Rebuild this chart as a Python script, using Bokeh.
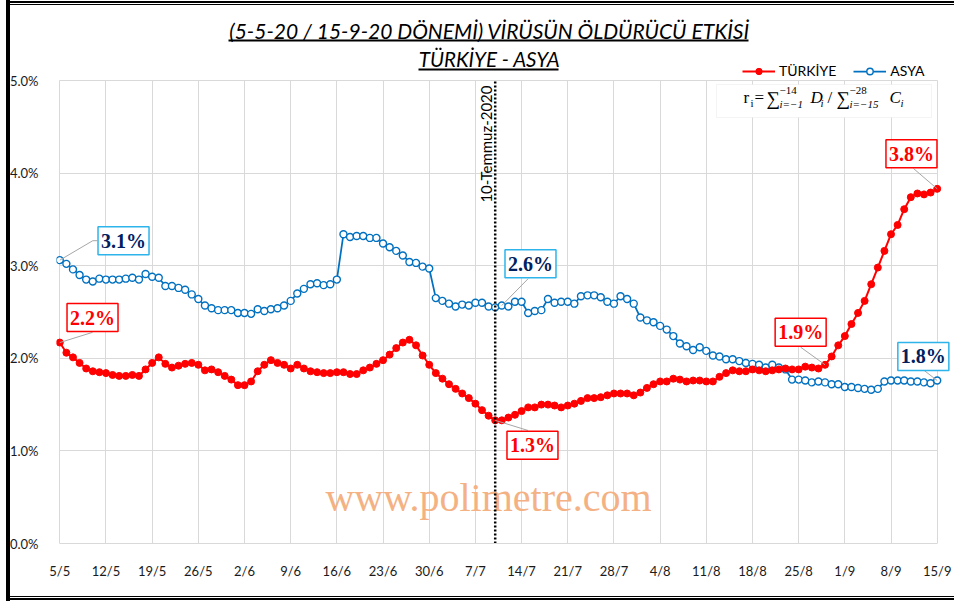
import math
from bokeh.plotting import figure
from bokeh.models import (ColumnDataSource, Range1d, FixedTicker, PrintfTickFormatter,
                          Label, BoxAnnotation, Legend, LegendItem)
from bokeh.embed import file_html
from bokeh.resources import INLINE

# ---------------- data ----------------
tick_labels = ["5/5", "12/5", "19/5", "26/5", "2/6", "9/6", "16/6", "23/6", "30/6", "7/7",
               "14/7", "21/7", "28/7", "4/8", "11/8", "18/8", "25/8", "1/9", "8/9", "15/9"]
y_ticks = [0, 1, 2, 3, 4, 5]

turkiye = [
    2.17, 2.06, 2.01, 1.95, 1.89, 1.86, 1.85, 1.84, 1.82, 1.81, 1.81, 1.82, 1.81, 1.88, 1.95, 2.01, 1.94, 1.90, 1.92, 1.94, 1.95, 1.93,
    1.87, 1.88, 1.85, 1.81, 1.77, 1.71, 1.71, 1.75, 1.86, 1.93, 1.98, 1.95, 1.93, 1.89, 1.93, 1.89, 1.86, 1.85, 1.84, 1.84, 1.85, 1.85,
    1.83, 1.83, 1.87, 1.90, 1.94, 1.98, 2.04, 2.11, 2.17, 2.20, 2.14, 2.03, 1.93, 1.84, 1.78, 1.72, 1.67, 1.62, 1.57, 1.51, 1.44, 1.38,
    1.33, 1.33, 1.36, 1.39, 1.43, 1.47, 1.47, 1.50, 1.50, 1.49, 1.47, 1.49, 1.51, 1.54, 1.57, 1.57, 1.58, 1.60, 1.62, 1.62, 1.62, 1.60,
    1.63, 1.68, 1.72, 1.75, 1.75, 1.78, 1.77, 1.75, 1.76, 1.76, 1.75, 1.75, 1.80, 1.84, 1.87, 1.86, 1.86, 1.88, 1.87, 1.86, 1.87, 1.88,
    1.89, 1.88, 1.88, 1.91, 1.90, 1.89, 1.93, 2.02, 2.14, 2.24, 2.37, 2.49, 2.62, 2.80, 2.98, 3.16, 3.34, 3.44, 3.61, 3.74, 3.78, 3.77, 3.79, 3.83,
]

asya = [
    3.06, 3.02, 2.96, 2.90, 2.85, 2.83, 2.86, 2.85, 2.85, 2.85, 2.86, 2.87, 2.85, 2.91, 2.88, 2.87, 2.78, 2.78, 2.76, 2.74, 2.69, 2.64,
    2.57, 2.54, 2.52, 2.52, 2.52, 2.49, 2.49, 2.48, 2.53, 2.51, 2.53, 2.54, 2.57, 2.62, 2.70, 2.75, 2.80, 2.81, 2.79, 2.80, 2.85, 3.34,
    3.31, 3.32, 3.32, 3.30, 3.30, 3.24, 3.20, 3.16, 3.11, 3.04, 3.03, 2.99, 2.97, 2.65, 2.62, 2.59, 2.56, 2.58, 2.57, 2.60, 2.60, 2.56,
    2.55, 2.57, 2.56, 2.61, 2.61, 2.49, 2.51, 2.52, 2.64, 2.60, 2.61, 2.61, 2.59, 2.67, 2.68, 2.68, 2.66, 2.61, 2.59, 2.67, 2.64, 2.59,
    2.44, 2.41, 2.39, 2.35, 2.31, 2.24, 2.16, 2.13, 2.09, 2.12, 2.08, 2.03, 2.02, 1.99, 1.99, 1.97, 1.95, 1.94, 1.93, 1.90, 1.93, 1.90, 1.88,
    1.77, 1.77, 1.76, 1.74, 1.75, 1.74, 1.72, 1.72, 1.69, 1.69, 1.68, 1.67, 1.66, 1.67, 1.75, 1.76, 1.76, 1.76, 1.75, 1.75, 1.74, 1.73, 1.76,
]

days = list(range(len(turkiye)))
marker_day = 66          # 10 Temmuz 2020
marker_text = "10-Temmuz-2020"
title1 = "(5-5-20 / 15-9-20 DÖNEMİ) VİRÜSÜN ÖLDÜRÜCÜ ETKİSİ"
title2 = "TÜRKİYE - ASYA"
watermark = "www.polimetre.com"

RED = "#FF0000"
BLUE = "#0070C0"
NAVY = "#002060"
LBLUE = "#2DB4EA"
GRID = "#D9D9D9"

# ---------------- figure ----------------
# frame: left edge 56px, bottom edge 543px (page coords); 92.6 px per 1 %, 6.597 px per day
LEFT = 56
FRAME_H = 543
FRAME_W = 898
BOTTOM = 58
p = figure(width=LEFT + FRAME_W, height=FRAME_H + BOTTOM,
           x_range=Range1d(-0.5, -0.5 + FRAME_W / 6.597),
           y_range=Range1d(0, FRAME_H / 92.6),
           output_backend="svg", toolbar_location=None,
           min_border_left=LEFT, min_border_right=0, min_border_top=0, min_border_bottom=BOTTOM)
p.outline_line_color = None
p.background_fill_alpha = 0
p.border_fill_alpha = 0
# frame-like rules of the original screenshot (left bar, double rules top and bottom)
p.styles = {"box-shadow": ", ".join([
    "inset 6px 0 0 0 white", "inset 10px 0 0 0 black",
    "inset 0 1px 0 0 white", "inset 0 3px 0 0 black", "inset 0 4px 0 0 white", "inset 0 5px 0 0 black",
    "inset 0 -1px 0 0 white", "inset 0 -3px 0 0 black", "inset 0 -4px 0 0 white", "inset 0 -5px 0 0 black",
])}


def sx(px):   # page x -> screen units relative to frame
    return px - LEFT


def sy(py):   # page y -> screen units relative to frame bottom
    return FRAME_H - py


ticks_x = list(range(0, len(days), 7))
p.xaxis.ticker = FixedTicker(ticks=ticks_x)
p.xaxis.major_label_overrides = {t: lab for t, lab in zip(ticks_x, tick_labels)}
p.yaxis.ticker = FixedTicker(ticks=y_ticks)
p.yaxis.formatter = PrintfTickFormatter(format="%.1f%%")
p.xaxis.bounds = (days[0], days[-1])
for ax in (p.xaxis[0], p.yaxis[0]):
    ax.major_tick_line_color = None
    ax.minor_tick_line_color = None
    ax.major_label_text_font = "Lato"
    ax.major_label_text_font_size = "13px"
    ax.major_label_text_color = "#1a1a1a"
p.xaxis.axis_line_color = GRID
p.yaxis.axis_line_color = None
p.xaxis.major_label_standoff = 13
p.yaxis.major_label_standoff = 12

gx, gy = p.xgrid[0], p.ygrid[0]
gx.ticker = FixedTicker(ticks=ticks_x)
gy.ticker = FixedTicker(ticks=y_ticks)
if "cross_bounds" in type(gx).properties():
    gx.cross_bounds = (y_ticks[0], y_ticks[-1])
    gy.cross_bounds = (days[0], days[-1])
    p.grid.grid_line_color = GRID
    p.grid.grid_line_width = 1
else:
    p.grid.visible = False
    p.segment(x0=ticks_x, y0=[y_ticks[0]] * len(ticks_x), x1=ticks_x, y1=[y_ticks[-1]] * len(ticks_x),
              line_color=GRID, line_width=1)
    p.segment(x0=[days[0]] * len(y_ticks), y0=y_ticks, x1=[days[-1]] * len(y_ticks), y1=y_ticks,
              line_color=GRID, line_width=1)

# watermark
p.add_layout(Label(x=sx(488), y=sy(497), x_units="screen", y_units="screen", text=watermark,
                   text_font="Liberation Serif", text_font_size="40px", text_color="#F4B183",
                   text_align="center", text_baseline="middle", level="underlay"))

src = ColumnDataSource(dict(day=days, tr=turkiye, asya=asya))
l2 = p.line("day", "asya", source=src, line_color=BLUE, line_width=1.75)
s2 = p.scatter("day", "asya", source=src, size=7, fill_color="white", line_color=BLUE, line_width=1.4)
l1 = p.line("day", "tr", source=src, line_color=RED, line_width=2)
s1 = p.scatter("day", "tr", source=src, size=7, fill_color=RED, line_color=RED)

# vertical marker line (10 Temmuz)
p.segment(x0=[marker_day], y0=[y_ticks[0]], x1=[marker_day], y1=[y_ticks[-1]],
          line_color="black", line_dash="2 2", line_width=2.5)
p.add_layout(Label(x=marker_day, y=sy(85), y_units="screen", x_offset=-9, text=marker_text,
                   angle=math.pi / 2, text_align="right", text_baseline="middle",
                   text_font="Lato", text_font_size="15px", text_color="black"))

# data labels: (series, index, label centre day, label centre value, leader points)
callouts = [
    (asya, 0, 9.66, 3.27, [(5.0, 3.27), (5.7, 3.27)], NAVY, LBLUE),
    (turkiye, 0, 4.96, 2.44, [(4.96, 2.28)], RED, RED),
    (asya, 67, 71.35, 3.02, [(71.0, 2.86)], NAVY, LBLUE),
    (turkiye, 66, 71.65, 1.06, [(71.0, 1.22)], RED, RED),
    (turkiye, 116, 112.3, 2.28, [(112.3, 2.12)], RED, RED),
    (turkiye, 133, 129.1, 4.21, [(129.4, 4.05)], RED, RED),
    (asya, 133, 130.9, 2.02, [(131.0, 1.87)], NAVY, LBLUE),
]
xs, ys = [], []
for series, idx, lx, ly, pts, tc, bc in callouts:
    xs.append([days[idx]] + [q[0] for q in pts])
    ys.append([series[idx]] + [q[1] for q in pts])
p.multi_line(xs, ys, line_color="#A6A6A6", line_width=1)
for series, idx, lx, ly, pts, tc, bc in callouts:
    p.add_layout(Label(x=lx, y=ly, text=f"{series[idx]:.1f}%", text_align="center",
                       text_baseline="middle", text_font="Liberation Serif",
                       text_font_style="bold", text_font_size="20px", text_color=tc,
                       background_fill_color="white", border_line_color=bc,
                       border_line_width=1.5, padding=3))

# titles (underlined)
for txt, cx, cy, fs, l, r, uy in [(title1, 489, 30, 21, 228, 748, 40),
                                  (title2, 489, 58, 20.5, 418, 558, 69)]:
    p.add_layout(Label(x=sx(cx), y=sy(cy), x_units="screen", y_units="screen", text=txt,
                       text_align="center", text_baseline="middle", text_font="Lato",
                       text_font_style="italic", text_font_size=f"{fs}px", text_color="black"))
    p.add_layout(BoxAnnotation(left=sx(l), right=sx(r), top=sy(uy) + 1, bottom=sy(uy) - 1,
                               left_units="screen", right_units="screen",
                               top_units="screen", bottom_units="screen",
                               fill_color="black", fill_alpha=1, line_color=None))

# legend
legend = Legend(items=[LegendItem(label="TÜRKİYE", renderers=[l1, s1]),
                       LegendItem(label="ASYA", renderers=[l2, s2])],
                location=(sx(742), sy(79)), orientation="horizontal",
                label_text_font="Lato", label_text_font_size="14px", label_text_color="black",
                glyph_width=33, glyph_height=16, label_standoff=4, spacing=17,
                padding=0, margin=0, background_fill_alpha=0, border_line_color=None)
p.add_layout(legend)

# formula box
p.add_layout(BoxAnnotation(left=sx(716), right=sx(931), top=sy(84), bottom=sy(117),
                           left_units="screen", right_units="screen",
                           top_units="screen", bottom_units="screen",
                           fill_color="white", fill_alpha=1, line_color=GRID, line_width=1))
formula = [
    ("r", 743, 97, 17, "normal"), ("i", 750, 102, 11, "normal"), ("=", 754, 97, 17, "normal"),
    ("∑", 766, 98, 19, "normal"), ("−14", 779, 90, 11, "normal"), ("i=−1", 779, 103, 11, "italic"),
    ("D", 810, 97, 17, "italic"), ("i", 820, 102, 11, "italic"), ("/", 827, 97, 17, "normal"),
    ("∑", 836, 98, 19, "normal"), ("−28", 849, 90, 11, "normal"), ("i=−15", 849, 103, 11, "italic"),
    ("C", 889, 97, 17, "italic"), ("i", 900, 102, 11, "italic"),
]
for txt, fx, fy, fs, st in formula:
    p.add_layout(Label(x=sx(fx), y=sy(fy), x_units="screen", y_units="screen", text=txt,
                       text_align="left", text_baseline="middle",
                       text_font="Liberation Serif", text_font_style=st,
                       text_font_size=f"{fs}px", text_color="black"))

open("out.html", "w").write(file_html(p, INLINE))
